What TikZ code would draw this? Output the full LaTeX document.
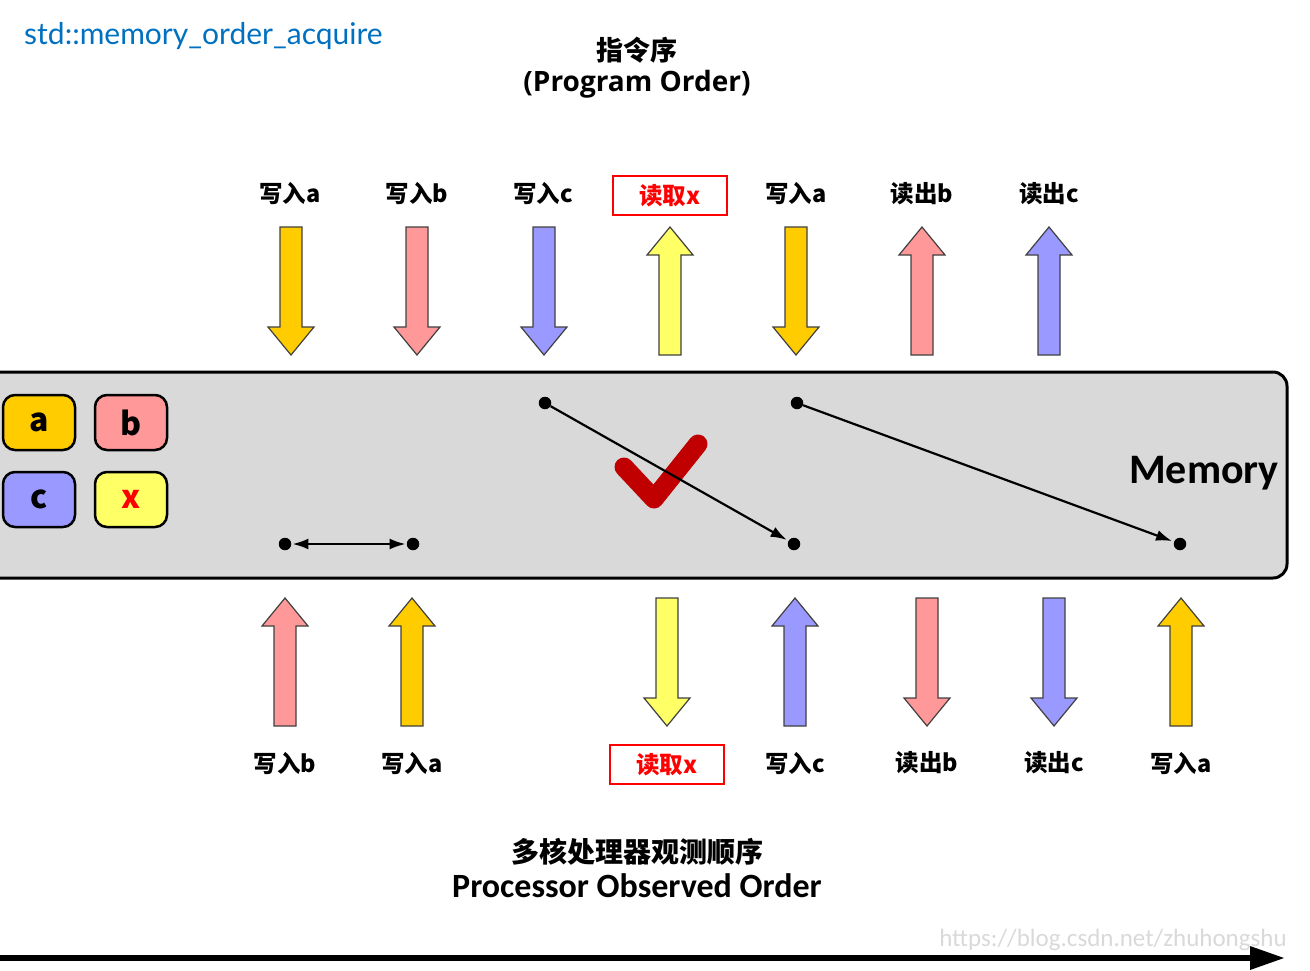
\documentclass[tikz,border=0pt]{standalone}
\usepackage{fontspec}
\setmainfont{Noto Sans CJK SC}
\newfontfamily\calfont{Carlito}
\newfontfamily\latofont{Lato}
\newfontfamily\opfont{Open Sans}
\usetikzlibrary{arrows.meta}
\definecolor{cOr}{HTML}{FFCC00}
\definecolor{cPk}{HTML}{FF9999}
\definecolor{cBl}{HTML}{9999FF}
\definecolor{cYe}{HTML}{FFFF66}
\definecolor{cTitle}{HTML}{0070C0}
\definecolor{cMem}{HTML}{D9D9D9}
\definecolor{cChk}{HTML}{C00000}
\definecolor{cEdge}{HTML}{404040}
\tikzset{
  fatarrow/.style={draw=cEdge, line width=1.2pt, line join=miter},
  oplabel/.style={font=\bfseries\fontsize{23.5}{27}\selectfont, inner sep=2pt},
  redlabel/.style={oplabel, text=red, draw=red, line width=1.5pt, minimum width=114pt, minimum height=39pt},
  varbox/.style={draw=black, line width=2.5pt, rounded corners=12pt, minimum width=72pt, minimum height=55pt, font=\bfseries\fontsize{32}{36}\selectfont},
  dotp/.style={circle, fill=black, inner sep=0pt, minimum size=12.5pt},
  tipL/.tip={Latex[length=16pt,width=11pt]},
  link/.style={line width=2.2pt, -tipL, shorten >=2pt},
}
% down arrow: x, top y, colour
\newcommand\fatdown[3]{\draw[fatarrow, fill=#3] (#1-11,#2) -- (#1+11,#2) -- (#1+11,#2+100) -- (#1+23,#2+100) -- (#1,#2+128) -- (#1-23,#2+100) -- (#1-11,#2+100) -- cycle;}
\newcommand\fatup[3]{\draw[fatarrow, fill=#3] (#1-11,#2+128) -- (#1+11,#2+128) -- (#1+11,#2+28) -- (#1+23,#2+28) -- (#1,#2) -- (#1-23,#2+28) -- (#1-11,#2+28) -- cycle;}
\begin{document}
\begin{tikzpicture}[x=1pt,y=-1pt]
\useasboundingbox (0,0) rectangle (1310,970);
% titles
\node[anchor=west, text=cTitle, font=\latofont\fontsize{30}{33}\selectfont, inner sep=0pt] (title) at (24,36) {std::memory\_order\_acquire};
\node[font=\bfseries\fontsize{27}{30}\selectfont, inner sep=0pt] (po1) at (637,50) {指令序};
\node[font=\opfont\bfseries\fontsize{28}{32}\selectfont, inner sep=0pt] (po2) at (637,84) {(Program Order)};
% top labels
\node[oplabel] (t1) at (290,194) {写入a};
\node[oplabel] (t2) at (417,194) {写入b};
\node[oplabel] (t3) at (543,194) {写入c};
\node[redlabel] (t4) at (670,195.5) {读取x};
\node[oplabel] (t5) at (796,194) {写入a};
\node[oplabel] (t6) at (922,194) {读出b};
\node[oplabel] (t7) at (1049,194) {读出c};
% top arrows
\fatdown{291}{227}{cOr}
\fatdown{417}{227}{cPk}
\fatdown{544}{227}{cBl}
\fatup{670}{227}{cYe}
\fatdown{796}{227}{cOr}
\fatup{922}{227}{cPk}
\fatup{1049}{227}{cBl}
% memory
\draw[line width=3pt, fill=cMem, rounded corners=14pt] (-20,372) rectangle (1287,578);
\node[anchor=east, font=\calfont\bfseries\fontsize{42}{46}\selectfont, inner sep=0pt] (mem) at (1279,473) {Memory};
\node[varbox, fill=cOr] (va) at (39,422.5) {a};
\node[varbox, fill=cPk] (vb) at (131,422.5) {b};
\node[varbox, fill=cBl] (vc) at (39,499.5) {c};
\node[varbox, fill=cYe, text=red] (vx) at (131,499.5) {x};
% check mark
\draw[cChk, line width=19pt, line cap=round, line join=round] (624,467) -- (654,499) -- (698,444);
% dots and links
\node[dotp] (d1) at (285,544) {};
\node[dotp] (d2) at (413,544) {};
\node[dotp] (d3) at (545,403) {};
\node[dotp] (d4) at (794,544) {};
\node[dotp] (d5) at (797,403) {};
\node[dotp] (d6) at (1180,544) {};
\draw[line width=2.2pt, tipL-tipL, shorten <=1pt, shorten >=1pt] (d1) -- (d2);
\draw[link] (d3) -- (d4);
\draw[link] (d5) -- (d6);
% bottom arrows
\fatup{285}{598}{cPk}
\fatup{412}{598}{cOr}
\fatdown{667}{598}{cYe}
\fatup{795}{598}{cBl}
\fatdown{927}{598}{cPk}
\fatdown{1054}{598}{cBl}
\fatup{1181}{598}{cOr}
% bottom labels
\node[oplabel] (b1) at (285,763) {写入b};
\node[oplabel] (b2) at (412,763) {写入a};
\node[redlabel] (b3) at (667,764.5) {读取x};
\node[oplabel] (b4) at (795,763) {写入c};
\node[oplabel] (b5) at (927,763) {读出b};
\node[oplabel] (b6) at (1054,763) {读出c};
\node[oplabel] (b7) at (1181,763) {写入a};
% bottom titles
\node[font=\bfseries\fontsize{28}{31}\selectfont, inner sep=0pt] (oo1) at (637,852) {多核处理器观测顺序};
\node[font=\calfont\bfseries\fontsize{34}{37}\selectfont, inner sep=0pt] (oo2) at (637,886) {Processor Observed Order};
% watermark
\node[anchor=east, text=black!15, font=\calfont\fontsize{25}{27}\selectfont, inner sep=0pt] (wm) at (1287,940) {https://blog.csdn.net/zhuhongshu};
% time axis
\coordinate (ax0) at (0,958);
\coordinate (ax1) at (1255,958);
\draw[line width=6pt] (ax0) -- (ax1);
\fill (1250,946) -- (1284,958) -- (1250,970) -- cycle;
\end{tikzpicture}
\end{document}
